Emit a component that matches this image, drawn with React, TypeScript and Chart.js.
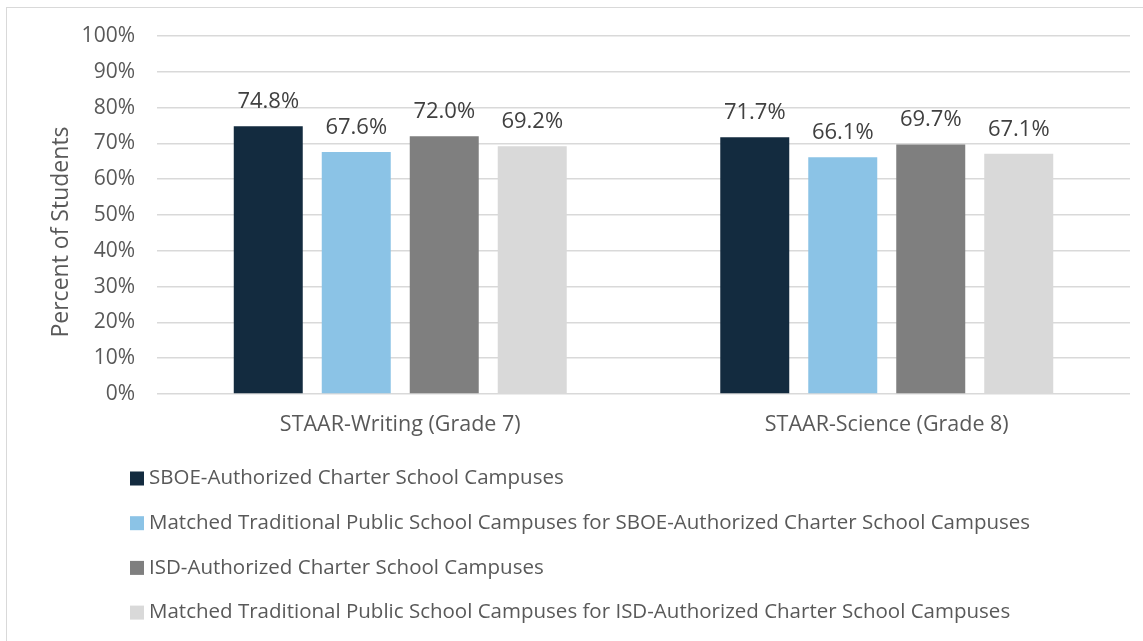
import React, { useEffect, useRef } from "react";
import { Chart, registerables } from "chart.js";

Chart.register(...registerables);

const categories = ["STAAR-Writing (Grade 7)", "STAAR-Science (Grade 8)"];
const seriesNames = [
  "SBOE-Authorized Charter School Campuses",
  "Matched Traditional Public School Campuses for SBOE-Authorized Charter School Campuses",
  "ISD-Authorized Charter School Campuses",
  "Matched Traditional Public School Campuses for ISD-Authorized Charter School Campuses",
];
const sboeCharter = [74.8, 71.7];
const sboeMatched = [67.6, 66.1];
const isdCharter = [72.0, 69.7];
const isdMatched = [69.2, 67.1];
const seriesColors = ["#132B3F", "#8BC3E6", "#7F7F7F", "#D9D9D9"];
const yAxisTitle = "Percent of Students";

const FONT = "'Open Sans', Lato, sans-serif";

const dataLabelPlugin = {
  id: "dataLabels",
  afterDatasetsDraw(chart: any) {
    const ctx = chart.ctx;
    ctx.save();
    ctx.font = `22px ${FONT}`;
    ctx.fillStyle = "#404040";
    ctx.textAlign = "center";
    ctx.textBaseline = "alphabetic";
    chart.data.datasets.forEach((ds: any, di: number) => {
      const meta = chart.getDatasetMeta(di);
      meta.data.forEach((bar: any, i: number) => {
        ctx.fillText(Number(ds.data[i]).toFixed(1) + "%", bar.x, bar.y - 18);
      });
    });
    ctx.restore();
  },
};

const titleAndLegendPlugin = {
  id: "titleAndLegend",
  afterDraw(chart: any) {
    const ctx = chart.ctx;
    ctx.save();
    // y-axis title
    ctx.font = `23px ${FONT}`;
    ctx.fillStyle = "#595959";
    ctx.textAlign = "center";
    ctx.textBaseline = "middle";
    ctx.translate(61, 232);
    ctx.rotate(-Math.PI / 2);
    ctx.fillText(yAxisTitle, 0, 0);
    ctx.restore();

    ctx.save();
    ctx.font = `20.5px ${FONT}`;
    ctx.textAlign = "left";
    ctx.textBaseline = "middle";
    chart.data.datasets.forEach((ds: any, i: number) => {
      const y = 478.5 + i * 44.7;
      ctx.fillStyle = ds.backgroundColor;
      ctx.fillRect(130, y - 7, 14, 14);
      ctx.fillStyle = "#595959";
      ctx.fillText(ds.label, 149, y);
    });
    ctx.restore();
  },
};

export default function App() {
  const ref = useRef<HTMLCanvasElement>(null);
  useEffect(() => {
    if (!ref.current) return;
    const seriesData = [sboeCharter, sboeMatched, isdCharter, isdMatched];
    const chart = new Chart(ref.current, {
      type: "bar",
      data: {
        labels: categories,
        datasets: seriesNames.map((name, i) => ({
          label: name,
          data: seriesData[i],
          backgroundColor: seriesColors[i],
          borderWidth: 0,
          categoryPercentage: 0.7235,
          barPercentage: 0.784,
        })),
      },
      options: {
        responsive: false,
        animation: false,
        layout: { padding: { left: 46, right: 13, top: 36, bottom: 200 } },
        plugins: {
          legend: { display: false },
          tooltip: { enabled: false },
        },
        scales: {
          x: {
            grid: { display: false },
            border: { display: false },
            ticks: { color: "#595959", font: { family: FONT, size: 21.5 }, padding: 10 },
            afterFit(scale: any) {
              scale.height = 47;
            },
          },
          y: {
            min: 0,
            max: 100,
            ticks: {
              stepSize: 10,
              color: "#595959",
              font: { family: FONT, size: 21 },
              padding: 22,
              callback: (v: any) => v + "%",
            },
            grid: { color: "#D9D9D9", lineWidth: 1.5, drawTicks: false },
            border: { display: false },
            afterFit(scale: any) {
              scale.width = 111;
            },
          },
        },
      },
      plugins: [dataLabelPlugin, titleAndLegendPlugin],
    });
    return () => chart.destroy();
  }, []);

  return (
    <div style={{ position: "absolute", left: 0, top: 0, width: 1143, height: 641, background: "#fff", overflow: "hidden" }}>
      <div
        style={{
          position: "absolute",
          left: 6,
          top: 7,
          width: 1200,
          height: 700,
          borderLeft: "1.5px solid #D9D9D9",
          borderTop: "1.5px solid #D9D9D9",
        }}
      />
      <canvas ref={ref} width={1143} height={641} style={{ position: "absolute", left: 0, top: 0 }} />
    </div>
  );
}
